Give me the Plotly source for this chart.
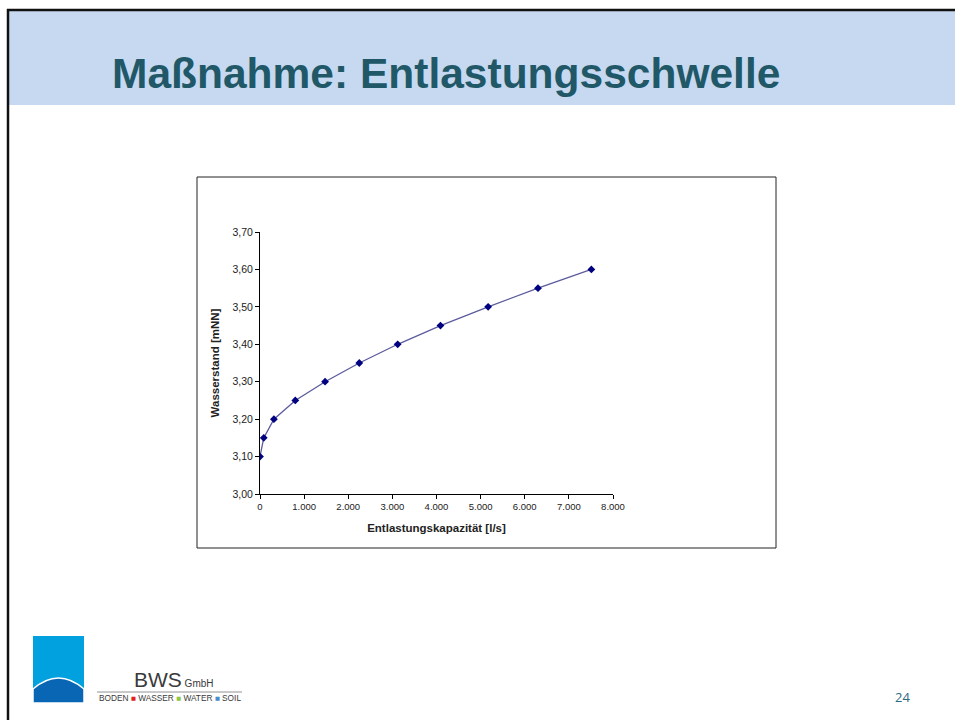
import plotly.graph_objects as go

# Data
kapazitaet = [0, 85, 315, 800, 1475, 2250, 3120, 4090, 5170, 6300, 7510]
wasserstand = [3.10, 3.15, 3.20, 3.25, 3.30, 3.35, 3.40, 3.45, 3.50, 3.55, 3.60]
x_ticks = [0, 1000, 2000, 3000, 4000, 5000, 6000, 7000, 8000]
x_ticklabels = ["0", "1.000", "2.000", "3.000", "4.000", "5.000", "6.000", "7.000", "8.000"]
y_ticks = [3.00, 3.10, 3.20, 3.30, 3.40, 3.50, 3.60, 3.70]
y_ticklabels = ["3,00", "3,10", "3,20", "3,30", "3,40", "3,50", "3,60", "3,70"]

W, H = 955, 720
# plot area in pixels
PX0, PX1 = 260, 613
PY0, PY1 = 232, 494  # top, bottom

def px(x):
    return x / W

def py(y):
    return 1 - y / H

fig = go.Figure()
fig.add_trace(go.Scatter(
    x=kapazitaet, y=wasserstand, mode="lines+markers",
    line=dict(color="#5B5B9E", width=1.3),
    marker=dict(symbol="diamond", size=6, color="#000080"),
    showlegend=False, hoverinfo="skip"))

shapes = []
def rect(x0, y0, x1, y1, fill=None, line=None, lw=0, layer="below"):
    shapes.append(dict(type="rect", xref="paper", yref="paper", x0=px(x0), y0=py(y0), x1=px(x1), y1=py(y1),
                       fillcolor=fill or "rgba(0,0,0,0)",
                       line=dict(color=line or "rgba(0,0,0,0)", width=lw), layer=layer))

def pline(x0, y0, x1, y1, color, width, layer="above"):
    shapes.append(dict(type="line", xref="paper", yref="paper", x0=px(x0), y0=py(y0), x1=px(x1), y1=py(y1),
                       line=dict(color=color, width=width), layer=layer))

# header band
rect(9, 11, 955, 105, fill="#C6D9F1")
# slide border lines
pline(7, 10, 955, 10, "#111111", 2.5)
pline(8, 9, 8, 720, "#111111", 2.5)
# chart frame
rect(197, 177, 776, 548, fill="white", line="#222222", lw=1)
# logo square
rect(33, 636, 84, 703, fill="#00A1DE")
arc = "M {a},{b} L {a},{c} Q {m},{d} {e},{c} L {e},{b} Z".format(
    a=px(33), b=py(703), c=py(689), m=px(58.5), d=py(667), e=px(84))
shapes.append(dict(type="path", xref="paper", yref="paper", path=arc,
                   fillcolor="#0866B4", line=dict(color="white", width=1.5), layer="below"))
# logo underline
pline(97, 692, 242, 692, "#777777", 0.8)

font_main = "Liberation Sans, Arial"
annotations = [
    dict(text="<b>Maßnahme: Entlastungsschwelle</b>", xref="paper", yref="paper", x=px(110), y=py(74),
         xanchor="left", yanchor="middle", showarrow=False,
         font=dict(family=font_main, size=42.5, color="#215868")),
    dict(text="BWS<span style='font-size:10px'> GmbH</span>", xref="paper", yref="paper", x=px(132), y=py(693),
         xanchor="left", yanchor="bottom",
         showarrow=False, font=dict(family=font_main, size=21, color="#3A3A3A")),
    dict(text="BODEN <span style='color:#E2231A'>■</span> WASSER <span style='color:#8DC63F'>■</span> WATER <span style='color:#4A8CC9'>■</span> SOIL",
         xref="paper", yref="paper", x=px(97), y=py(698), xanchor="left", yanchor="middle", showarrow=False,
         font=dict(family=font_main, size=8.3, color="#3A3A3A")),
    dict(text="24", xref="paper", yref="paper", x=px(902), y=py(697), xanchor="center", yanchor="middle",
         showarrow=False, font=dict(family="Open Sans, Lato", size=13, color="#2E6B82")),
]

axis_font = dict(family=font_main, size=11.5, color="#222222")
fig.update_layout(
    width=W, height=H, margin=dict(l=0, r=0, t=0, b=0, pad=0),
    paper_bgcolor="white", plot_bgcolor="rgba(0,0,0,0)",
    xaxis=dict(domain=[px(PX0), px(PX1)], range=[0, 8000], tickvals=x_ticks, ticktext=x_ticklabels,
               showgrid=False, zeroline=False, showline=True, linecolor="#000000", linewidth=1,
               ticks="outside", ticklen=4, tickcolor="#000000",
               tickfont=dict(family=font_main, size=9.5, color="#222222"),
               title=dict(text="<b>Entlastungskapazität [l/s]</b>", font=axis_font, standoff=12),
               fixedrange=True, automargin=False),
    yaxis=dict(domain=[py(PY1), py(PY0)], range=[3.0, 3.7], tickvals=y_ticks, ticktext=y_ticklabels,
               showgrid=False, zeroline=False, showline=True, linecolor="#000000", linewidth=1,
               ticks="outside", ticklen=4, tickcolor="#000000",
               tickfont=dict(family=font_main, size=10.5, color="#222222"),
               title=dict(text="<b>Wasserstand [mNN]</b>", font=axis_font, standoff=10),
               fixedrange=True, automargin=False),
    shapes=shapes, annotations=annotations,
)
fig.write_html("out.html", config={"displayModeBar": False},
               post_script="document.body.style.margin='0';document.body.style.overflow='hidden';")
